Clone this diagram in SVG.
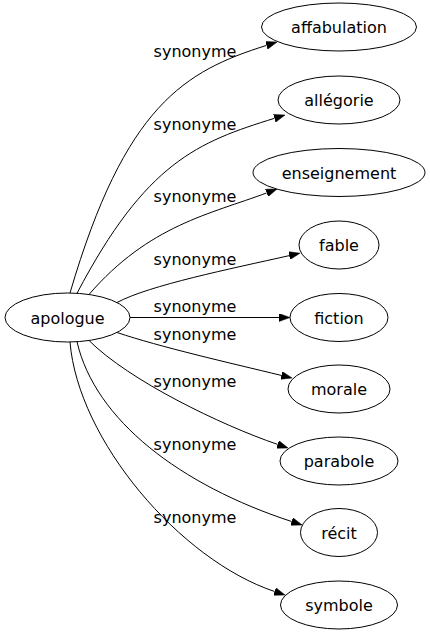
<svg xmlns="http://www.w3.org/2000/svg" width="430" height="635" viewBox="0 0 430 635">
<style>
.node ellipse{fill:#fff;stroke:#000;stroke-width:1}
.node text{font-family:"DejaVu Sans",sans-serif;font-size:16px;fill:#000;text-anchor:middle}
.edge path{fill:none;stroke:#000;stroke-width:1}
.lbl{font-family:"DejaVu Sans",sans-serif;font-size:16px;fill:#000;text-anchor:middle}
</style>
<defs>
<marker id="arr" markerUnits="userSpaceOnUse" markerWidth="11" markerHeight="8" viewBox="0 0 11 8" refX="0" refY="4" orient="auto">
<path d="M0,0 L11,4 L0,8 z" fill="#000" stroke="#000" stroke-width="0.5"/>
</marker>
</defs>
<rect width="430" height="635" fill="#fff"/>
<g id="edges" class="edge">
<path d="M70,293 C125,105 185,71 266.5,45.4" marker-end="url(#arr)"/>
<path d="M77,293.3 C146,162 198,142 274.5,118.3" marker-end="url(#arr)"/>
<path d="M89,294.5 C149,225 210.5,214 266.7,192.9" marker-end="url(#arr)"/>
<path d="M117,302.5 C150,285 230,269 289.3,255.6" marker-end="url(#arr)"/>
<path d="M130,317.5 L279,317.5" marker-end="url(#arr)"/>
<path d="M117,332.5 C160,347 230,363 281.3,375.4" marker-end="url(#arr)"/>
<path d="M89,340.5 C129,380.5 220.8,425 277.6,444.4" marker-end="url(#arr)"/>
<path d="M77,341.7 C95,420 180,485 291.6,521.5" marker-end="url(#arr)"/>
<path d="M70,342 C78,440 180,560 274.6,591.5" marker-end="url(#arr)"/>
<text class="lbl" x="195" y="57">synonyme</text>
<text class="lbl" x="195" y="130">synonyme</text>
<text class="lbl" x="195" y="202">synonyme</text>
<text class="lbl" x="195" y="265">synonyme</text>
<text class="lbl" x="195" y="312">synonyme</text>
<text class="lbl" x="195" y="340">synonyme</text>
<text class="lbl" x="195" y="387">synonyme</text>
<text class="lbl" x="195" y="450">synonyme</text>
<text class="lbl" x="195" y="523">synonyme</text>
</g>
<g id="apologue" class="node"><ellipse cx="67.5" cy="317.5" rx="62.5" ry="24.5"/><text x="67.5" y="323.5">apologue</text></g>
<g id="affabulation" class="node"><ellipse cx="339" cy="27" rx="77.5" ry="24"/><text x="339" y="33">affabulation</text></g>
<g id="allegorie" class="node"><ellipse cx="339" cy="100" rx="61" ry="24"/><text x="339" y="106">allégorie</text></g>
<g id="enseignement" class="node"><ellipse cx="339" cy="172.5" rx="86" ry="24"/><text x="339" y="178.5">enseignement</text></g>
<g id="fable" class="node"><ellipse cx="339" cy="245" rx="40" ry="24"/><text x="339" y="251">fable</text></g>
<g id="fiction" class="node"><ellipse cx="339" cy="317.5" rx="49" ry="24"/><text x="339" y="323.5">fiction</text></g>
<g id="morale" class="node"><ellipse cx="339" cy="389" rx="51" ry="24"/><text x="339" y="395">morale</text></g>
<g id="parabole" class="node"><ellipse cx="339" cy="461" rx="59" ry="24"/><text x="339" y="467">parabole</text></g>
<g id="recit" class="node"><ellipse cx="339" cy="532.5" rx="38.5" ry="24"/><text x="339" y="538.5">récit</text></g>
<g id="symbole" class="node"><ellipse cx="339" cy="605" rx="58.5" ry="24"/><text x="339" y="611">symbole</text></g>
</svg>
